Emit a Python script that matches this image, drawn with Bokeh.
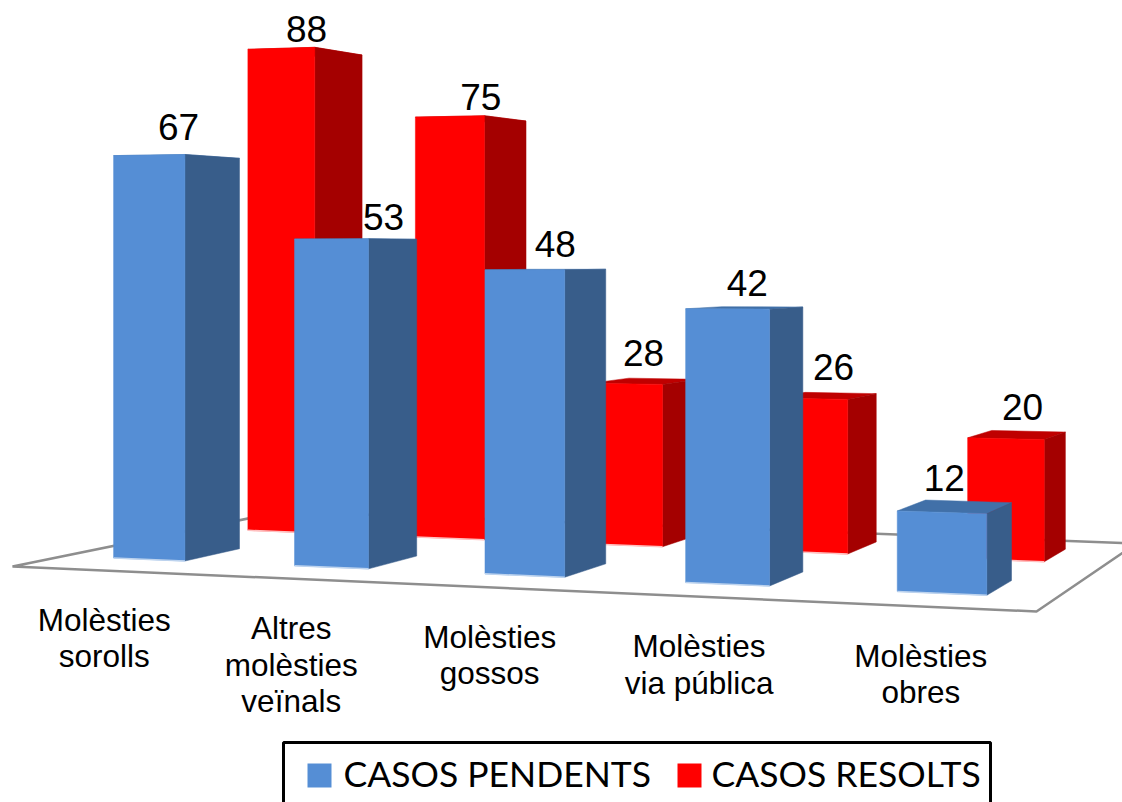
from bokeh.plotting import figure
from bokeh.embed import file_html
from bokeh.resources import INLINE
from bokeh.models import Range1d
from bokeh.core.properties import value
import numpy as np

# ---- data ----
categories = [["Molèsties", "sorolls"], ["Altres", "molèsties", "veïnals"],
              ["Molèsties", "gossos"], ["Molèsties", "via pública"], ["Molèsties", "obres"]]
pendents = [67, 53, 48, 42, 12]
resolts = [88, 75, 28, 26, 20]
legend_names = ["CASOS PENDENTS", "CASOS RESOLTS"]

# ---- layout: perspective of the floor, unit square -> screen ----
FLOOR = {(0, 0): (12, 566), (1, 0): (1036, 611), (0, 1): (282, 511), (1, 1): (1136, 543)}
K_HEIGHT, FALL_U = 6.17, -0.135
BLUE = dict(u0=0.052, u1=0.137, v0=0.165, v1=0.365)
RED = dict(u0=0.058, u1=0.137, v0=0.65, v1=0.86)
STEP = 0.2
NUDGE = [0.0, -0.004, -0.005, -0.005, 0.0]
BLUE_U0 = [0.002, 0.001, 0.0, 0.001, 0.0]
BLUE_U1 = [-0.0053, -0.0062, -0.0042, -0.0021, -0.001]
BLUE_DX = [2, 28, 10, 3, -10]
BLUE_DY = [-29, -22, -26, -26, -33]
RED_DX = [1.5, 10, -1, 8.5, 6]
RED_DY = [-20, -20, -30, -31, -31]
CAT_DX = [-2, -8, -10, -9, -4]
CAT_DY, LINE_H = 49, 36.5

A = []
B = []
for (u, v), (x, y) in FLOOR.items():
    A.append([u, v, 1, 0, 0, 0, -u * x, -v * x]); B.append(x)
    A.append([0, 0, 0, u, v, 1, -u * y, -v * y]); B.append(y)
a, b, c, d, e, f, g, h = np.linalg.solve(np.array(A, float), np.array(B, float))


def project(u, v, z=0.0):
    w = g * u + h * v + 1
    sx = (a * u + b * v + c) / w
    sy = (d * u + e * v + f) / w
    return sx, sy - z * K_HEIGHT / (1 + FALL_U * u + h * v)


W, H = 1122, 802
p = figure(width=W, height=H, output_backend="svg", toolbar_location=None,
           x_range=Range1d(0, W), y_range=Range1d(H, 0),
           min_border=0, outline_line_color=None, background_fill_color="white")
p.xaxis.visible = False
p.yaxis.visible = False
p.grid.visible = False

# floor
corners = [project(0, 0), project(1, 0), project(1, 1), project(0, 1)]
p.patch([q[0] for q in corners], [q[1] for q in corners], fill_color="white",
        line_color="#8E8E8E", line_width=2.5)


def face(points, color):
    p.patch([q[0] for q in points], [q[1] for q in points], fill_color=color,
            line_color=color, line_width=0.5)


def bar(i, val, g3, cols, edge, dx, dy, du0=0.0, du1=0.0):
    u0 = g3["u0"] + STEP * i + NUDGE[i] + du0
    u1 = g3["u1"] + STEP * i + NUDGE[i] + du1
    v0, v1 = g3["v0"], g3["v1"]
    # top, side, front
    face([project(u0, v0, val), project(u1, v0, val), project(u1, v1, val), project(u0, v1, val)], cols[2])
    face([project(u1, v0, 0), project(u1, v1, 0), project(u1, v1, val), project(u1, v0, val)], cols[1])
    face([project(u0, v0, 0), project(u1, v0, 0), project(u1, v0, val), project(u0, v0, val)], cols[0])
    bl, br = project(u0, v0), project(u1, v0)
    p.line([bl[0], br[0]], [bl[1], br[1]], line_color=edge, line_width=1.5)
    lx = (project(u0, v0)[0] + project(u1, v1)[0]) / 2 + dx
    ly = project(u0, v0, val)[1] + dy
    p.text([lx], [ly], text=[str(val)], text_font=value("Liberation Sans"), text_font_size="37px",
           text_align="center", text_baseline="middle", text_color="black")


for i, val in enumerate(resolts):
    bar(i, val, RED, ("#FF0000", "#A40000", "#BF0000"), "#FFC0C0", RED_DX[i], RED_DY[i])
for i, val in enumerate(pendents):
    bar(i, val, BLUE, ("#558ED5", "#385D8A", "#4170A8"), "#BDD3EE", BLUE_DX[i], BLUE_DY[i],
        BLUE_U0[i], BLUE_U1[i])

# category labels
for i, lines in enumerate(categories):
    x0, y0 = project(STEP * i + STEP / 2, 0)
    for j, line in enumerate(lines):
        p.text([x0 + CAT_DX[i]], [y0 + CAT_DY + j * LINE_H], text=[line],
               text_font=value("Liberation Sans"), text_font_size="31.5px",
               text_align="center", text_baseline="middle", text_color="black")

# legend
p.quad(left=[283], right=[990], top=[742], bottom=[830], fill_color="white",
       line_color="black", line_width=3)
for x_sw, x_txt, name, col in zip([319, 689], [343, 711], legend_names, ["#558ED5", "#FF0000"]):
    p.rect([x_sw], [775], width=24, height=24, fill_color=col, line_color=None)
    p.text([x_txt], [773], text=[name], text_font=value("Lato"),
           text_font_size="35.5px", text_align="left", text_baseline="middle", text_color="black")

open("out.html", "w").write(file_html(p, INLINE))
